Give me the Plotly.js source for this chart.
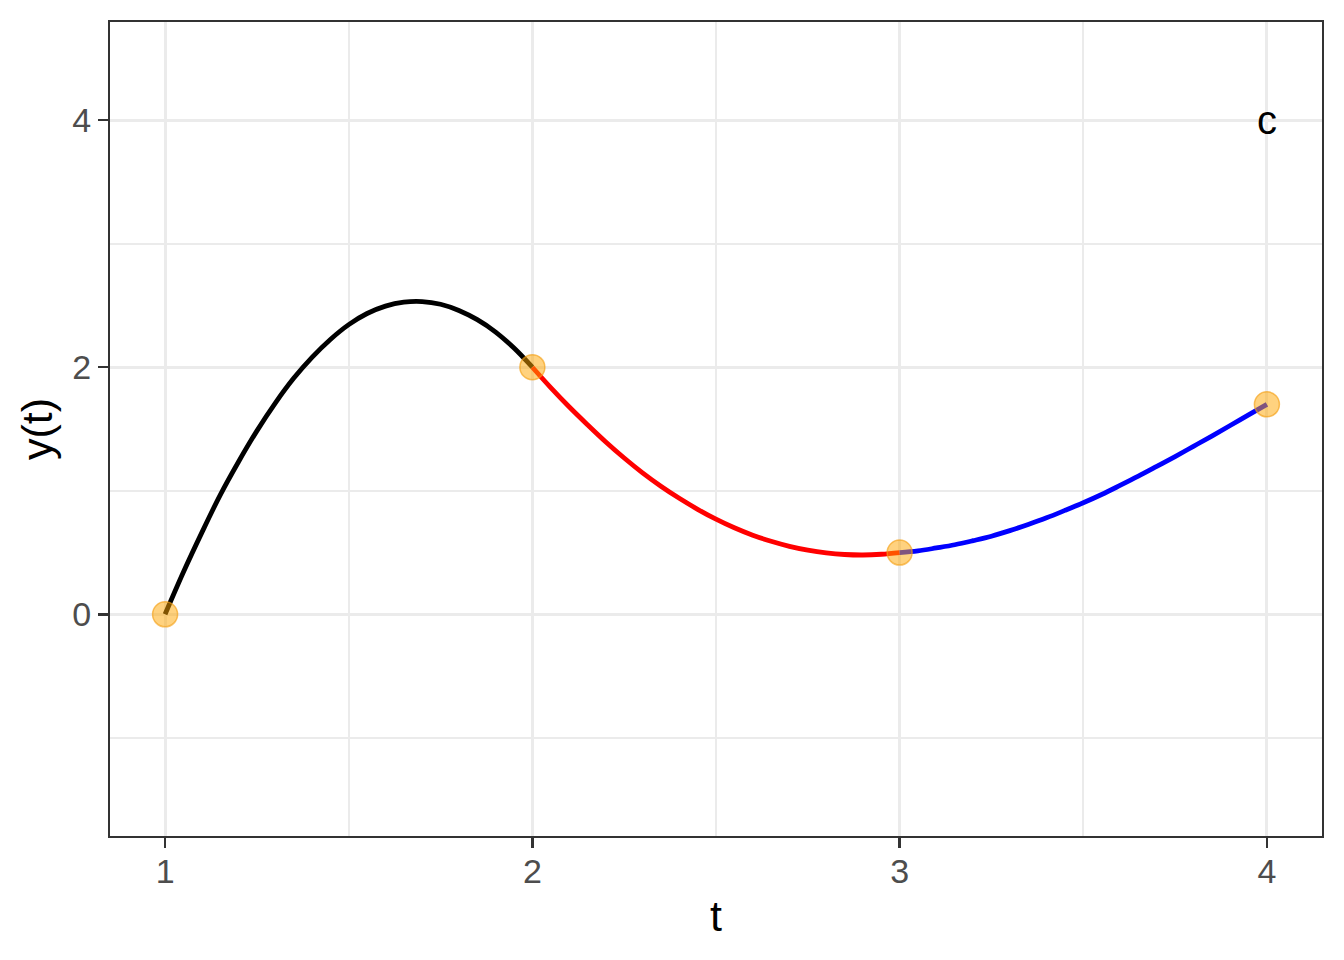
<!DOCTYPE html>
<html>
<head>
<meta charset="utf-8">
<script src="https://cdn.plot.ly/plotly-3.0.1.min.js"></script>
<style>html,body{margin:0;padding:0;background:#fff;}#chart{width:1344px;height:960px;}</style>
</head>
<body>
<div id="chart"></div>
<script>
// Knot points
const knotT = [1, 2, 3, 4];
const knotY = [0, 2, 0.5, 1.7];

// Segment 1 (black)
const seg1T = [1.00, 1.05, 1.10, 1.15, 1.20, 1.25, 1.30, 1.35, 1.40, 1.45, 1.50, 1.55, 1.60, 1.65, 1.70, 1.75, 1.80, 1.85, 1.90, 1.95, 2.00];
const seg1Y = [0.000, 0.342, 0.661, 0.965, 1.235, 1.485, 1.710, 1.910, 2.080, 2.225, 2.345, 2.435, 2.495, 2.527, 2.532, 2.510, 2.460, 2.385, 2.285, 2.155, 2.000];

// Segment 2 (red)
const seg2T = [2.00, 2.05, 2.10, 2.15, 2.20, 2.25, 2.30, 2.35, 2.40, 2.45, 2.50, 2.55, 2.60, 2.65, 2.70, 2.75, 2.80, 2.85, 2.90, 2.95, 3.00];
const seg2Y = [2.000, 1.835, 1.680, 1.535, 1.395, 1.265, 1.145, 1.037, 0.939, 0.850, 0.770, 0.700, 0.640, 0.591, 0.550, 0.519, 0.497, 0.484, 0.480, 0.486, 0.500];

// Segment 3 (blue)
const seg3T = [3.00, 3.05, 3.10, 3.15, 3.20, 3.25, 3.30, 3.35, 3.40, 3.45, 3.50, 3.55, 3.60, 3.65, 3.70, 3.75, 3.80, 3.85, 3.90, 3.95, 4.00];
const seg3Y = [0.500, 0.513, 0.537, 0.563, 0.596, 0.632, 0.677, 0.727, 0.781, 0.841, 0.903, 0.970, 1.043, 1.118, 1.197, 1.277, 1.360, 1.443, 1.528, 1.614, 1.700];

// Panel label
const labelText = "c";
const labelT = 4;
const labelY = 4;

const xTickVals = [1, 2, 3, 4];
const xTickText = ["1", "2", "3", "4"];
const yTickVals = [0, 2, 4];
const yTickText = ["0", "2", "4"];

const FONT = "Liberation Sans, Arial, Helvetica, sans-serif";

function seg(t, y, color) {
  return {
    x: t, y: y, type: "scatter", mode: "lines",
    line: {color: color, width: 4.8, shape: "spline", smoothing: 1.0},
    hoverinfo: "skip", showlegend: false
  };
}

const traces = [
  seg(seg1T, seg1Y, "#000000"),
  seg(seg2T, seg2Y, "#FF0000"),
  seg(seg3T, seg3Y, "#0000FF"),
  {
    x: knotT, y: knotY, type: "scatter", mode: "markers",
    marker: {size: 25, color: "rgba(255,165,0,0.5)", line: {width: 1.5, color: "rgba(245,160,20,0.65)"}},
    showlegend: false
  }
];

const layout = {
  width: 1344, height: 960,
  paper_bgcolor: "#ffffff", plot_bgcolor: "#ffffff",
  margin: {l: 110, r: 22, t: 22, b: 124, pad: 0},
  font: {family: FONT, color: "#000000"},
  showlegend: false,
  xaxis: {
    range: [0.85, 4.15],
    tickmode: "array", tickvals: xTickVals, ticktext: xTickText,
    ticks: "outside", ticklen: 10, tickwidth: 2.5, tickcolor: "#333333",
    ticklabelstandoff: -6,
    tickfont: {family: FONT, size: 34, color: "#4D4D4D"},
    showgrid: true, gridcolor: "#EBEBEB", gridwidth: 3,
    minor: {tickmode: "array", tickvals: [1.5, 2.5, 3.5], showgrid: true, gridcolor: "#EBEBEB", gridwidth: 1.6, ticks: ""},
    zeroline: false,
    showline: true, mirror: true, linecolor: "#333333", linewidth: 2,
    title: {text: "t", font: {family: FONT, size: 43, color: "#000000"}, standoff: 12},
    automargin: false
  },
  yaxis: {
    range: [-1.795, 4.795],
    tickmode: "array", tickvals: yTickVals, ticktext: yTickText,
    ticks: "outside", ticklen: 10, tickwidth: 2.5, tickcolor: "#333333",
    tickfont: {family: FONT, size: 34, color: "#4D4D4D"},
    showgrid: true, gridcolor: "#EBEBEB", gridwidth: 3,
    minor: {tickmode: "array", tickvals: [-1, 1, 3], showgrid: true, gridcolor: "#EBEBEB", gridwidth: 1.6, ticks: ""},
    zeroline: false,
    showline: true, mirror: true, linecolor: "#333333", linewidth: 2,
    title: {text: "y(t)", font: {family: FONT, size: 43, color: "#000000"}, standoff: 6},
    automargin: false
  },
  annotations: [{
    x: labelT, y: labelY, xref: "x", yref: "y", text: labelText, showarrow: false,
    font: {family: FONT, size: 40, color: "#000000"}, xanchor: "center", yanchor: "middle"
  }]
};

Plotly.newPlot("chart", traces, layout, {staticPlot: true, displayModeBar: false});
</script>
</body>
</html>
